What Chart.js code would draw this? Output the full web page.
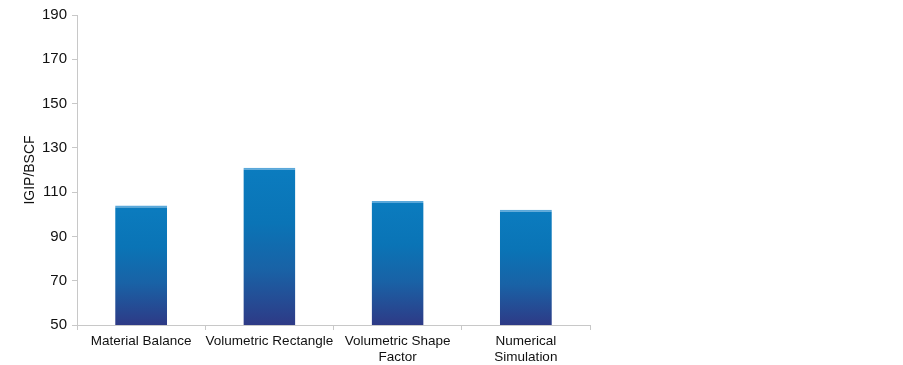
<!DOCTYPE html>
<html>
<head>
<meta charset="utf-8">
<script src="https://cdn.jsdelivr.net/npm/chart.js@4.4.1/dist/chart.umd.min.js"></script>
<style>
  html, body { margin: 0; padding: 0; background: #ffffff; }
  #wrap { width: 903px; height: 365px; }
</style>
</head>
<body>
<div id="wrap"><canvas id="chartIgip"></canvas></div>
<script>
// Categorias e valores
const categorias = ['Material Balance', 'Volumetric Rectangle', ['Volumetric Shape', 'Factor'], ['Numerical', 'Simulation']];
const valoresIgip = [104, 121, 106, 102];
const ticksY = [50, 70, 90, 110, 130, 150, 170, 190];

const ctxIgip = document.getElementById('chartIgip').getContext('2d');

// Gradiente vertical de cada barra (azul claro em cima, azul escuro embaixo)
function gradienteBarra(context) {
    const chart = context.chart;
    const area = chart.chartArea;
    if (!area || context.raw === undefined) return '#1565a8';
    const topo = chart.scales.y.getPixelForValue(context.raw);
    const g = chart.ctx.createLinearGradient(0, topo, 0, area.bottom);
    g.addColorStop(0, '#0b7cbf');
    g.addColorStop(0.35, '#0a74b6');
    g.addColorStop(0.65, '#1962a6');
    g.addColorStop(1, '#2e3a86');
    return g;
}

new Chart(ctxIgip, {
    type: 'bar',
    data: {
        labels: categorias,
        datasets: [{
            label: 'IGIP',
            data: valoresIgip,
            backgroundColor: gradienteBarra,
            borderColor: '#5aa8da',
            borderWidth: { top: 2, left: 0, right: 0, bottom: 0 },
            borderSkipped: 'bottom',
            categoryPercentage: 1,
            barPercentage: 0.405,
        }],
    },
    options: {
        responsive: true,
        maintainAspectRatio: false,
        animation: false,
        layout: { padding: { top: 15, right: 313, left: 22, bottom: 0 } },
        plugins: {
            legend: { display: false },
            tooltip: { enabled: false },
        },
        scales: {
            x: {
                grid: {
                    display: true,
                    drawOnChartArea: false,
                    offset: true,
                    tickLength: 5,
                    color: '#c8c8c8',
                },
                border: { color: '#c8c8c8', width: 1 },
                ticks: {
                    color: '#111111',
                    maxRotation: 0,
                    autoSkip: false,
                    padding: 3,
                    font: { family: 'Liberation Sans, Arial, sans-serif', size: 13.5 },
                },
                afterFit: (scale) => { scale.height = 40; },
            },
            y: {
                min: 50,
                max: 190,
                afterBuildTicks: (scale) => { scale.ticks = ticksY.map(v => ({ value: v })); },
                grid: {
                    display: true,
                    drawOnChartArea: false,
                    tickLength: 5,
                    color: '#c8c8c8',
                },
                border: { color: '#c8c8c8', width: 1 },
                ticks: {
                    color: '#111111',
                    padding: 5,
                    font: { family: 'Liberation Sans, Arial, sans-serif', size: 15 },
                },
                title: {
                    display: true,
                    text: 'IGIP/BSCF',
                    color: '#111111',
                    padding: { top: 0, bottom: 0 },
                    font: { family: 'Liberation Sans, Arial, sans-serif', size: 14 },
                },
                afterFit: (scale) => { scale.width = 55; },
            },
        },
    },
});
</script>
</body>
</html>
